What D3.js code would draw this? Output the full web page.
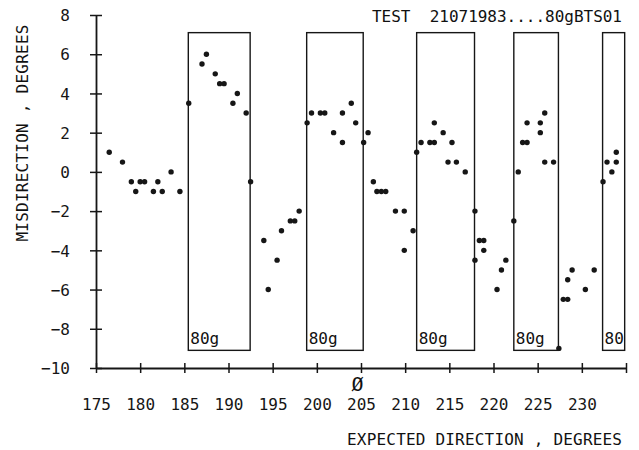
<!DOCTYPE html>
<html>
<head>
<meta charset="utf-8">
<script src="https://cdn.jsdelivr.net/npm/d3@7"></script>
<style>
  body { margin: 0; background: #fff; }
  text { font-family: 'DejaVu Sans Mono', 'Liberation Mono', monospace; fill: #111; font-variant-numeric: slashed-zero; white-space: pre; }
</style>
</head>
<body>
<div id="chart"></div>
<script>
// expected direction (deg) and misdirection (deg) of each trial
const direction = [
  176.5, 178, 179, 179.5, 180, 180.5, 181.5, 182, 182.5, 183.5, 184.5,
  185.5, 187, 187.5, 188.5, 189, 189.5, 190.5, 191, 192, 192.5,
  194, 194.5, 195.5, 196, 197, 197.5, 198,
  198.9, 199.4, 200.4, 200.9, 201.9, 202.9, 202.9, 203.9, 204.4, 205.3,
  205.8, 206.4, 206.8, 207.3, 207.8, 208.9, 209.9, 209.9, 210.9,
  211.3, 211.8, 212.8, 213.3, 213.3, 214.3, 214.85, 215.3, 215.8, 216.8, 217.9,
  217.9, 218.4, 218.9, 218.9, 220.4, 220.9, 221.4,
  222.3, 222.8, 223.3, 223.8, 223.8, 225.3, 225.3, 225.8, 225.8, 226.8, 227.4,
  227.9, 228.4, 228.4, 228.9, 230.4, 231.4,
  232.4, 232.85, 233.4, 233.9, 233.9
];
const misdirection = [
  1, 0.5, -0.5, -1, -0.5, -0.5, -1, -0.5, -1, 0, -1,
  3.5, 5.5, 6, 5, 4.5, 4.5, 3.5, 4, 3, -0.5,
  -3.5, -6, -4.5, -3, -2.5, -2.5, -2,
  2.5, 3, 3, 3, 2, 3, 1.5, 3.5, 2.5, 1.5,
  2, -0.5, -1, -1, -1, -2, -2, -4, -3,
  1, 1.5, 1.5, 1.5, 2.5, 2, 0.5, 1.5, 0.5, 0, -2,
  -4.5, -3.5, -3.5, -4, -6, -5, -4.5,
  -2.5, 0, 1.5, 1.5, 2.5, 2.5, 2, 3, 0.5, 0.5, -9,
  -6.5, -6.5, -5.5, -5, -6, -5,
  -0.5, 0.5, 0, 0.5, 1
];

// 80g load periods
const boxStart = [185.45, 198.85, 211.3, 222.3, 232.35];
const boxEnd = [192.45, 205.25, 217.85, 227.35, 234.85];
const boxTop = 7.1;
const boxBottom = -9.1;
const boxLabel = '80g';

const xTicks = [175, 180, 185, 190, 195, 200, 205, 210, 215, 220, 225, 230, 235];
const yTicks = [-10, -8, -6, -4, -2, 0, 2, 4, 6, 8];

const width = 639;
const height = 450;
const ink = '#161616';

const svg = d3
  .select('#chart')
  .append('svg')
  .attr('width', width)
  .attr('height', height);

const x = d3.scaleLinear().domain([175, 235]).range([96, 626]);
const y = d3.scaleLinear().domain([-10, 8]).range([368, 15]);

// boxes
const boxes = svg
  .append('g')
  .selectAll('g')
  .data(boxStart)
  .enter()
  .append('g');

boxes
  .append('clipPath')
  .attr('id', (d, i) => `clip${i}`)
  .append('rect')
  .attr('x', (d) => x(d))
  .attr('y', y(boxTop))
  .attr('width', (d, i) => x(boxEnd[i]) - x(d))
  .attr('height', y(boxBottom) - y(boxTop));

boxes
  .append('rect')
  .attr('x', (d) => x(d))
  .attr('y', y(boxTop))
  .attr('width', (d, i) => x(boxEnd[i]) - x(d))
  .attr('height', y(boxBottom) - y(boxTop))
  .style('fill', 'none')
  .style('stroke', ink)
  .style('stroke-width', 1.4);

boxes
  .append('text')
  .attr('clip-path', (d, i) => `url(#clip${i})`)
  .attr('x', (d) => x(d) + 2)
  .attr('y', y(boxBottom) - 6)
  .style('font-size', '16px')
  .text(boxLabel);

// axes
const xAxis = svg
  .append('g')
  .attr('transform', `translate(0,${y(-10)})`)
  .call(d3.axisBottom(x).tickValues(xTicks).tickSize(5).tickSizeOuter(0));

const yAxis = svg
  .append('g')
  .attr('transform', `translate(${x(175)},0)`)
  .call(d3.axisLeft(y).tickValues(yTicks).tickSize(6).tickSizeOuter(0));

[xAxis, yAxis].forEach((ax) => {
  ax.select('.domain').style('stroke', ink).style('stroke-width', 1.8);
  ax.selectAll('.tick line').style('stroke', ink).style('stroke-width', 1.5);
  ax.selectAll('.tick text')
    .style('font-size', '16px')
    .style('font-family', "'DejaVu Sans Mono', monospace")
    .style('fill', ink);
});

xAxis.selectAll('.tick line').attr('y1', -5);
xAxis
  .selectAll('.tick text')
  .attr('y', 42)
  .attr('dy', 0)
  .text((d) => (d === 235 ? '' : d));

yAxis.selectAll('.tick line').attr('x1', 6);
yAxis.selectAll('.tick text').attr('x', -26).attr('dy', '0.36em');

// points
svg
  .append('g')
  .selectAll('circle')
  .data(direction)
  .enter()
  .append('circle')
  .attr('cx', (d) => x(d))
  .attr('cy', (d, i) => y(misdirection[i]))
  .attr('r', 2.7)
  .style('fill', ink);

// zero marker under the axis
svg
  .append('text')
  .attr('x', x(204.6))
  .attr('y', 391)
  .attr('text-anchor', 'middle')
  .style('font-size', '20px')
  .text('Ø');

// titles
svg
  .append('text')
  .attr('x', 372)
  .attr('y', 22)
  .attr('textLength', 250)
  .attr('lengthAdjust', 'spacing')
  .style('font-size', '16px')
  .text('TEST  21071983....80gBTS01');

svg
  .append('text')
  .attr('x', 347)
  .attr('y', 445)
  .attr('textLength', 275)
  .attr('lengthAdjust', 'spacing')
  .style('font-size', '16px')
  .text('EXPECTED DIRECTION , DEGREES');

svg
  .append('text')
  .attr('transform', 'translate(28,133) rotate(-90)')
  .attr('text-anchor', 'middle')
  .attr('textLength', 217)
  .attr('lengthAdjust', 'spacing')
  .style('font-size', '16px')
  .text('MISDIRECTION , DEGREES');
</script>
</body>
</html>
